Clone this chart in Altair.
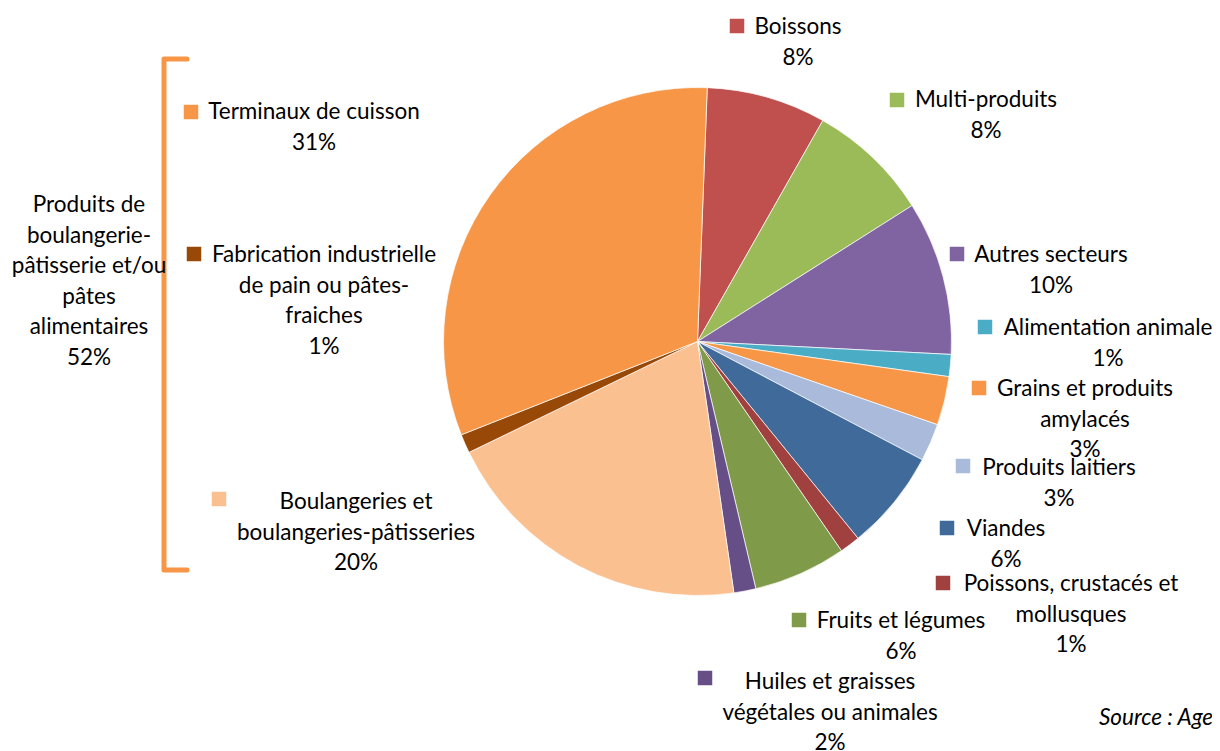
import altair as alt
import pandas as pd

# ---- data ----
categories = ["Boissons", "Multi-produits", "Autres secteurs", "Alimentation animale",
              "Grains et produits amylacés", "Produits laitiers", "Viandes",
              "Poissons, crustacés et mollusques", "Fruits et légumes",
              "Huiles et graisses végétales ou animales",
              "Boulangeries et boulangeries-pâtisseries",
              "Fabrication industrielle de pain ou pâtes-fraiches",
              "Terminaux de cuisson"]
values = [7.6, 7.8, 9.8, 1.4, 3.1, 2.4, 6.4, 1.3, 5.9, 1.4, 20.1, 1.2, 31.6]
pct_labels = ["8%", "8%", "10%", "1%", "3%", "3%", "6%", "1%", "6%", "2%", "20%", "1%", "31%"]
colors = ["#C0504D", "#9BBB59", "#8064A2", "#4BACC6", "#F79646", "#AABADA", "#3F6A9A",
          "#A0403F", "#7F9A48", "#664F86", "#FAC090", "#984807", "#F79646"]
# label text lines (name lines, then percentage)
label_lines = [
    ["Boissons"],
    ["Multi-produits"],
    ["Autres secteurs"],
    ["Alimentation animale"],
    ["Grains et produits", "amylacés"],
    ["Produits laitiers"],
    ["Viandes"],
    ["Poissons, crustacés et", "mollusques"],
    ["Fruits et légumes"],
    ["Huiles et graisses", "végétales ou animales"],
    ["Boulangeries et", "boulangeries-pâtisseries"],
    ["Fabrication industrielle", "de pain ou pâtes-", "fraiches"],
    ["Terminaux de cuisson"],
]
group_lines = ["Produits de", "boulangerie-", "pâtisserie et/ou", "pâtes", "alimentaires", "52%"]
source_text = "Source : Age"

# ---- layout (page pixel positions; chart origin is at 8,8) ----
OX, OY = 8, 8
CX, CY, R = 697.5, 341.5, 254
START = 0.0384  # radians, first slice starts slightly right of 12 o'clock
LINE = 30.5
# label block: square centre (x,y), text centre x, first-line y
label_pos = [
    (737, 26, 798, 27),
    (897, 100, 986, 100),
    (957, 254, 1051, 255),
    (985, 327, 1108, 328),
    (979, 388, 1085, 389),
    (963, 466, 1059, 468),
    (947, 528, 1006, 529),
    (943, 583, 1071, 584),
    (799, 620, 901, 621),
    (705, 678, 830, 682),
    (219, 499, 356, 502),
    (194, 254, 324, 255),
    (191, 112, 314, 112),
]
group_x, group_y = 89, 205
source_x, source_y = 1099, 718
bracket = [(187, 59), (164, 59), (164, 570), (187, 570)]

FONT = "Lato"
FS = 22.5

pie_df = pd.DataFrame({"cat": categories, "value": values, "idx": list(range(len(categories)))})
color_scale = alt.Scale(domain=categories, range=colors)

pie = alt.Chart(pie_df).mark_arc(radius=R, stroke="white", strokeWidth=0.7).encode(
    theta=alt.Theta("value:Q", stack=True, scale=alt.Scale(range=[START, START + 6.283185307])),
    color=alt.Color("cat:N", scale=color_scale, legend=None),
    order=alt.Order("idx:Q", sort="ascending"),
    x=alt.value(CX - OX),
    y=alt.value(CY - OY),
)

sq_rows = []
txt_rows = []
for i, cat in enumerate(categories):
    sx, sy, tx, ty = label_pos[i]
    sq_rows.append({"cat": cat, "x": sx - OX, "y": sy - OY})
    lines = label_lines[i] + [pct_labels[i]]
    for j, ln in enumerate(lines):
        txt_rows.append({"t": ln, "x": tx - OX, "y": ty + j * LINE - OY})
for j, ln in enumerate(group_lines):
    txt_rows.append({"t": ln, "x": group_x - OX, "y": group_y + j * LINE - OY})

squares = alt.Chart(pd.DataFrame(sq_rows)).mark_square(size=210, opacity=1, strokeWidth=0).encode(
    x=alt.X("x:Q", scale=None),
    y=alt.Y("y:Q", scale=None),
    color=alt.Color("cat:N", scale=color_scale, legend=None),
)

texts = alt.Chart(pd.DataFrame(txt_rows)).mark_text(
    font=FONT, fontSize=FS, color="#000000", align="center", baseline="middle"
).encode(x=alt.X("x:Q", scale=None), y=alt.Y("y:Q", scale=None), text="t:N")

source = alt.Chart(pd.DataFrame([{"t": source_text, "x": source_x - OX, "y": source_y - OY}])).mark_text(
    font=FONT, fontSize=FS, fontStyle="italic", color="#000000", align="left", baseline="middle"
).encode(x=alt.X("x:Q", scale=None), y=alt.Y("y:Q", scale=None), text="t:N")

br_df = pd.DataFrame([{"x": bx - OX, "y": by - OY, "o": k} for k, (bx, by) in enumerate(bracket)])
brk = alt.Chart(br_df).mark_line(color="#F79646", strokeWidth=5, strokeJoin="round", strokeCap="round").encode(
    x=alt.X("x:Q", scale=None), y=alt.Y("y:Q", scale=None), order="o:Q"
)

chart = alt.layer(pie, brk, squares, texts, source).properties(
    width=1204, height=743, padding=0,
    autosize=alt.AutoSizeParams(type="fit", contains="padding"),
).configure_view(stroke=None)

chart.save("out.html", embed_options={"renderer": "svg", "actions": False})
